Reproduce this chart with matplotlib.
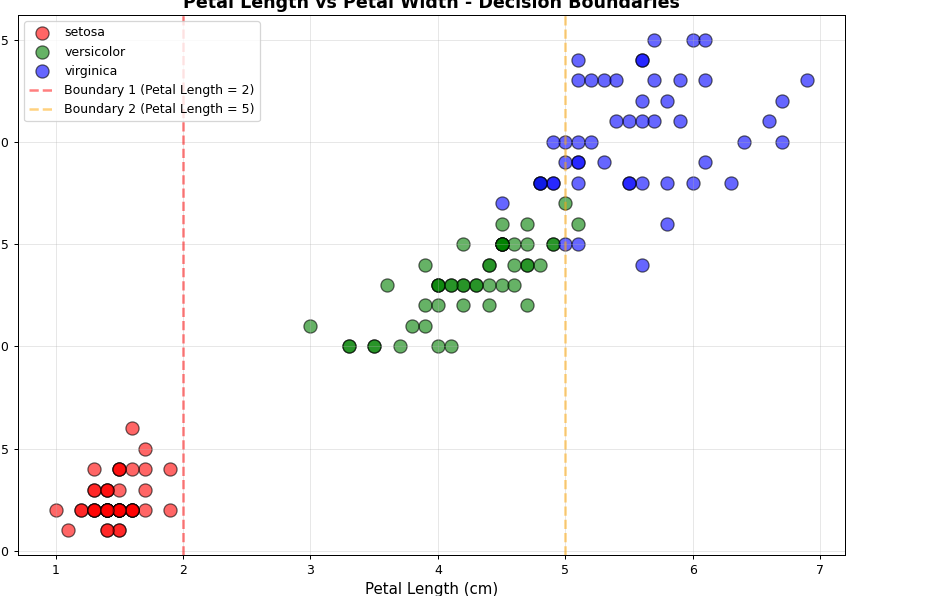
import numpy as np
import matplotlib
matplotlib.use("Agg")
import matplotlib.pyplot as plt

# iris petal measurements, per species
setosa_len = [1.4, 1.4, 1.3, 1.5, 1.4, 1.7, 1.4, 1.5, 1.4, 1.5, 1.5, 1.6, 1.4, 1.1, 1.2, 1.5, 1.3,
              1.4, 1.7, 1.5, 1.7, 1.5, 1.0, 1.7, 1.9, 1.6, 1.6, 1.5, 1.4, 1.6, 1.6, 1.5, 1.5, 1.4,
              1.5, 1.2, 1.3, 1.4, 1.3, 1.5, 1.3, 1.3, 1.3, 1.6, 1.9, 1.4, 1.6, 1.4, 1.5, 1.4]
setosa_wid = [0.2, 0.2, 0.2, 0.2, 0.2, 0.4, 0.3, 0.2, 0.2, 0.1, 0.2, 0.2, 0.1, 0.1, 0.2, 0.4, 0.4,
              0.3, 0.3, 0.3, 0.2, 0.4, 0.2, 0.5, 0.2, 0.2, 0.4, 0.2, 0.2, 0.2, 0.2, 0.4, 0.1, 0.2,
              0.2, 0.2, 0.2, 0.1, 0.2, 0.2, 0.3, 0.3, 0.2, 0.6, 0.4, 0.3, 0.2, 0.2, 0.2, 0.2]

versicolor_len = [4.7, 4.5, 4.9, 4.0, 4.6, 4.5, 4.7, 3.3, 4.6, 3.9, 3.5, 4.2, 4.0, 4.7, 3.6, 4.4,
                  4.5, 4.1, 4.5, 3.9, 4.8, 4.0, 4.9, 4.7, 4.3, 4.4, 4.8, 5.0, 4.5, 3.5, 3.8, 3.7,
                  3.9, 5.1, 4.5, 4.5, 4.7, 4.4, 4.1, 4.0, 4.4, 4.6, 4.0, 3.3, 4.2, 4.2, 4.2, 4.3,
                  3.0, 4.1]
versicolor_wid = [1.4, 1.5, 1.5, 1.3, 1.5, 1.3, 1.6, 1.0, 1.3, 1.4, 1.0, 1.5, 1.0, 1.4, 1.3, 1.4,
                  1.5, 1.0, 1.5, 1.1, 1.8, 1.3, 1.5, 1.2, 1.3, 1.4, 1.4, 1.7, 1.5, 1.0, 1.1, 1.0,
                  1.2, 1.6, 1.5, 1.6, 1.5, 1.3, 1.3, 1.3, 1.2, 1.4, 1.2, 1.0, 1.3, 1.2, 1.3, 1.3,
                  1.1, 1.3]

virginica_len = [6.0, 5.1, 5.9, 5.6, 5.8, 6.6, 4.5, 6.3, 5.8, 6.1, 5.1, 5.3, 5.5, 5.0, 5.1, 5.3,
                 5.5, 6.7, 6.9, 5.0, 5.7, 4.9, 6.7, 4.9, 5.7, 6.0, 4.8, 4.9, 5.6, 5.8, 6.1, 6.4,
                 5.6, 5.1, 5.6, 6.1, 5.6, 5.5, 4.8, 5.4, 5.6, 5.1, 5.1, 5.9, 5.7, 5.2, 5.0, 5.2,
                 5.4, 5.1]
virginica_wid = [2.5, 1.9, 2.1, 1.8, 2.2, 2.1, 1.7, 1.8, 1.8, 2.5, 2.0, 1.9, 2.1, 2.0, 2.4, 2.3,
                 1.8, 2.2, 2.3, 1.5, 2.3, 2.0, 2.0, 1.8, 2.1, 1.8, 1.8, 1.8, 2.1, 1.6, 1.9, 2.0,
                 2.2, 1.5, 1.4, 2.3, 2.4, 1.8, 1.8, 2.1, 2.4, 2.3, 1.9, 2.3, 2.5, 2.3, 1.9, 2.0,
                 2.3, 1.8]

species = ["setosa", "versicolor", "virginica"]
colors = ["red", "green", "blue"]
boundaries = [2, 5]

DPI = 90
fig = plt.figure(figsize=(949 / DPI, 596 / DPI), dpi=DPI)
# the original screenshot is cropped, so the axes sit right at the edges
ax = fig.add_axes([18 / 949, 41 / 596, 827 / 949, 540 / 596])

data = [(setosa_len, setosa_wid), (versicolor_len, versicolor_wid), (virginica_len, virginica_wid)]
for (x, y), name, c in zip(data, species, colors):
    ax.scatter(x, y, c=c, label=name, alpha=0.6, s=110, edgecolors="black")

ax.axvline(x=boundaries[0], color="red", linestyle="--", alpha=0.5, linewidth=2,
           label="Boundary 1 (Petal Length = 2)")
ax.axvline(x=boundaries[1], color="orange", linestyle="--", alpha=0.5, linewidth=2,
           label="Boundary 2 (Petal Length = 5)")

ax.set_xlabel("Petal Length (cm)", fontsize=12)
ax.set_ylabel("Petal Width (cm)", fontsize=12)
ax.set_title("Petal Length vs Petal Width - Decision Boundaries", fontsize=14, fontweight="bold")
ax.legend(loc="upper left")
ax.grid(True, alpha=0.3)

fig.savefig("out.png", dpi=DPI)
